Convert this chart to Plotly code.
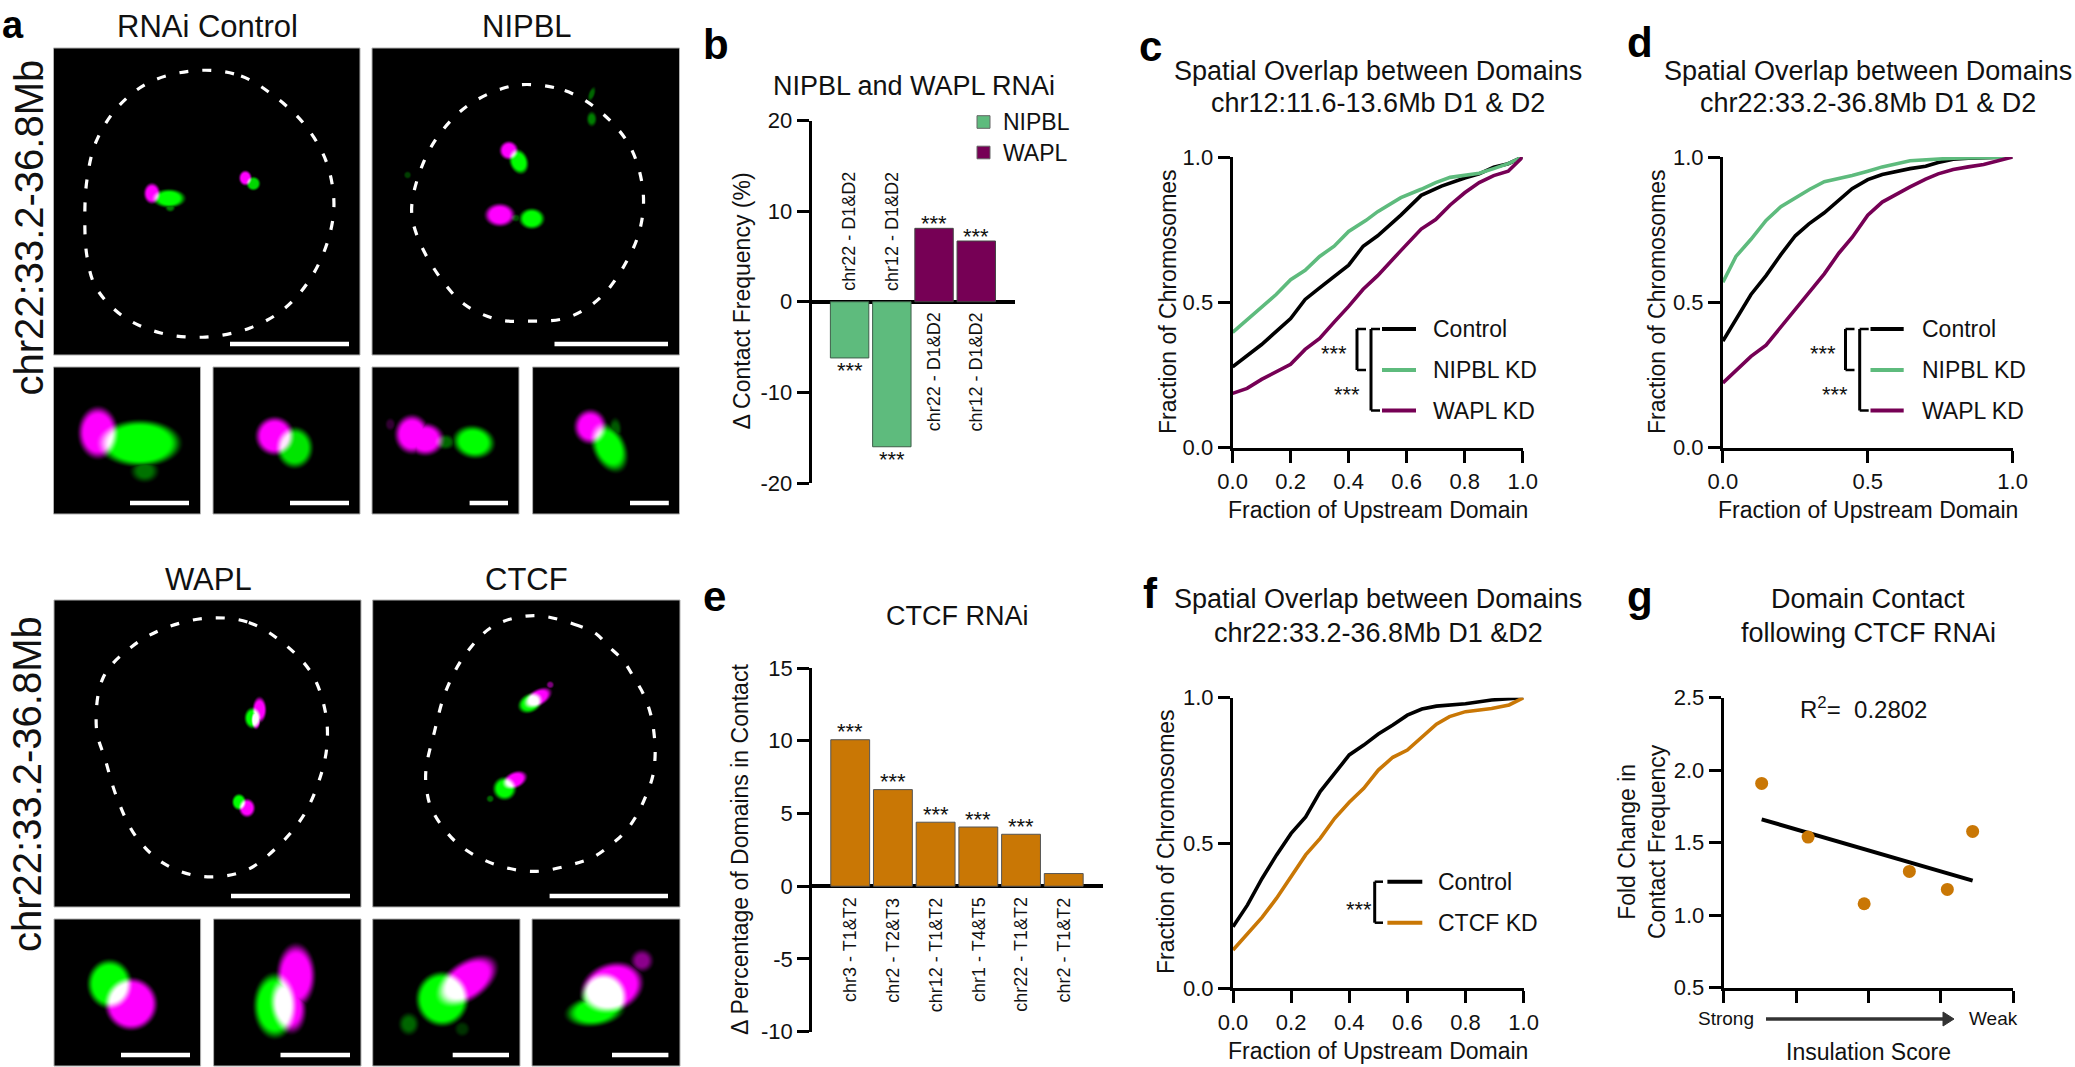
import base64, struct, zlib
import numpy as np
import plotly.graph_objects as go

W, H = 2075, 1067
FONT = "Liberation Sans"
INK = "#111111"
GREEN = "#5EBB7D"
PURPLE = "#760055"
ORANGE = "#C97705"

# ---------- data ----------
b_labels = ["chr22 - D1&D2", "chr12 - D1&D2", "chr22 - D1&D2", "chr12 - D1&D2"]
b_nipbl = [-6.2, -16.0]
b_wapl = [8.1, 6.7]

e_labels = ["chr3 - T1&T2", "chr2 - T2&T3", "chr12 - T1&T2", "chr1 - T4&T5", "chr22 - T1&T2", "chr2 - T1&T2"]
e_values = [10.07, 6.64, 4.4, 4.07, 3.57, 0.87]
e_stars = [True, True, True, True, True, False]

c_ctrl_x = [0, .1, .2, .25, .3, .4, .45, .5, .58, .65, .72, .8, .85, .9, .95, 1]
c_ctrl_y = [.278, .355, .444, .51, .55, .628, .693, .729, .80, .868, .90, .928, .942, .965, .977, 1]
c_nipbl_x = [0, .1, .15, .2, .25, .3, .35, .4, .46, .5, .58, .65, .7, .75, .85, .9, .95, 1]
c_nipbl_y = [.397, .486, .527, .578, .61, .658, .693, .744, .782, .812, .86, .889, .912, .93, .944, .96, .977, 1]
c_wapl_x = [0, .05, .1, .2, .25, .3, .35, .4, .45, .5, .58, .65, .7, .75, .8, .85, .9, .95, 1]
c_wapl_y = [.187, .204, .235, .287, .338, .376, .432, .486, .545, .592, .678, .752, .785, .835, .877, .912, .936, .951, 1]

d_ctrl_x = [0, .045, .097, .149, .2, .25, .297, .35, .4, .446, .5, .55, .646, .7, .743, .795, .847, 1]
d_ctrl_y = [.367, .444, .527, .592, .664, .729, .77, .808, .853, .891, .922, .94, .96, .968, .981, .992, .996, 1]
d_nipbl_x = [0, .045, .097, .149, .2, .25, .3, .35, .446, .5, .55, .646, .743, .795, 1]
d_nipbl_y = [.569, .658, .717, .782, .829, .859, .889, .915, .936, .951, .966, .987, .993, .996, 1]
d_wapl_x = [0, .045, .097, .149, .2, .25, .297, .35, .4, .446, .5, .55, .646, .7, .743, .795, .847, .9, 1]
d_wapl_y = [.223, .267, .314, .353, .415, .48, .533, .598, .669, .723, .80, .845, .897, .924, .942, .957, .966, .974, 1]

f_ctrl_x = [0, .05, .1, .15, .2, .25, .3, .35, .4, .45, .5, .55, .6, .65, .7, .8, .89, 1]
f_ctrl_y = [.212, .287, .378, .459, .533, .59, .677, .74, .803, .837, .875, .906, .94, .961, .971, .979, .992, 1]
f_ctcf_x = [0, .05, .1, .15, .2, .25, .3, .35, .4, .45, .5, .55, .6, .65, .7, .745, .8, .89, .95, 1]
f_ctcf_y = [.132, .189, .244, .31, .384, .459, .516, .585, .64, .688, .751, .795, .82, .864, .909, .935, .952, .963, .975, 1]

g_x = [.525, 1.167, 1.942, 2.567, 3.092, 3.442]
g_y = [1.909, 1.539, 1.079, 1.302, 1.178, 1.578]
g_fit_x = [.525, 3.442]
g_fit_y = [1.661, 1.238]

# ---------- micrograph panels: (x0, y0, x1, y1) and blobs (channel, cx, cy, rx, ry, rotation, amplitude) ----------
MICROGRAPHS = [
    ((53.5, 48, 360, 355), [("m", 151.8, 193.4, 7, 9, 0, 1), ("g", 168.8, 198.4, 14, 8, 0, 1), ("g", 170, 207, 4, 4, 0, .5),
                            ("m", 245, 178, 5.5, 6.5, 0, 1), ("g", 253, 183.6, 6, 6, 0, .85)]),
    ((372, 48, 679.5, 355), [("m", 509, 150.4, 8, 8, 0, 1), ("g", 519, 161.6, 8, 11, -20, 1), ("m", 500, 215, 13, 10, 0, 1),
                             ("g", 532, 218.7, 11, 9, 0, 1), ("g", 516, 218, 4, 3, 0, .3), ("g", 592, 94, 2.5, 6, 20, .4),
                             ("g", 592, 119, 4, 6, 0, .5), ("g", 407.6, 175, 3, 3, 0, .25)]),
    ((53.5, 367, 200.5, 514), [("m", 98, 432.7, 17.5, 23, 0, 1), ("g", 139.7, 443.3, 37, 21, 0, 1), ("g", 144.7, 471, 11, 9, 0, .45)]),
    ((213, 367, 360, 514), [("m", 274.7, 436, 17, 17, 0, 1), ("g", 294.7, 447.7, 16, 18, 0, .9)]),
    ((372, 367, 519, 514), [("m", 412, 434.3, 15, 17, 0, 1), ("m", 425.3, 439.3, 16, 14, 0, 1), ("m", 390.3, 424.3, 4, 5, 0, .2),
                            ("g", 473.7, 442, 18, 14, 10, 1), ("g", 445.3, 442, 8, 6, 0, .4)]),
    ((532.6, 367, 679.5, 514), [("m", 590.3, 426.7, 14, 15, 0, 1), ("g", 609.3, 447.7, 14, 22, -25, 1), ("g", 615.3, 429, 5, 9, 0, .35)]),
    ((54, 600, 361, 907), [("m", 259.5, 709.8, 6, 11, 0, 1), ("g", 252.6, 718, 7, 9, 0, 1), ("m", 256, 720, 4, 8, 0, 1),
                           ("g", 239, 802, 6, 7, 0, 1), ("m", 247, 808, 7, 8, 0, 1)]),
    ((372.7, 600, 680, 907), [("m", 537.7, 697.8, 13, 7, -30, 1), ("g", 530, 703, 11, 8, -30, 1), ("m", 550, 684.8, 3, 3, 0, .5),
                              ("g", 504.4, 788.6, 10, 10, 0, 1), ("m", 514.7, 780, 11, 7, -25, 1), ("g", 490, 798.8, 3, 3, 0, .4)]),
    ((54, 919, 200.6, 1066), [("g", 109.7, 984, 20, 22, 0, 1), ("m", 131.3, 1004, 24, 24, 0, 1)]),
    ((213.6, 919, 361, 1066), [("m", 295.7, 975.7, 17, 28, 0, 1), ("m", 288, 1005.7, 15, 24, -10, 1), ("g", 274.7, 1005.7, 19, 29, 0, 1)]),
    ((372.7, 919, 520, 1066), [("g", 442, 999, 24, 25, 0, 1), ("m", 467, 980.7, 30, 17, -35, 1), ("g", 408.7, 1024, 8, 9, 0, .4),
                               ("g", 462, 1029, 6, 6, 0, .2)]),
    ((532, 919, 680, 1066), [("m", 612, 987.3, 29, 22, -20, 1), ("m", 642, 960.7, 9, 9, 0, .55), ("g", 603.7, 997.3, 21, 22, 0, 1),
                             ("g", 595, 1011, 25, 13, -8, 1)]),
]

# scale bars: (x0, x1, y)
SCALE_BARS = [(230, 349, 344), (554.5, 668, 344), (130, 189, 503), (290, 349, 503), (469.6, 508, 503), (630, 668.8, 503),
              (231, 350, 896), (549.6, 668, 896), (121, 190, 1055), (280.5, 350, 1055), (452.7, 509, 1055), (612, 668.4, 1055)]

# nucleus outlines, in pixels of the page
a1_zoom = [(450, 208), (540, 225), (610, 280), (680, 365), (730, 475), (748, 600), (735, 710), (695, 825), (635, 915), (560, 970),
           (460, 997), (360, 985), (275, 935), (215, 850), (195, 760), (190, 640), (195, 530), (215, 420), (265, 315), (340, 240), (450, 208)]
a2_zoom = [(1180, 250), (1265, 268), (1340, 325), (1410, 430), (1440, 560), (1435, 670), (1405, 770), (1345, 880), (1270, 940), (1180, 950),
           (1115, 945), (1040, 900), (980, 810), (935, 700), (922, 620), (940, 510), (980, 405), (1045, 315), (1125, 262), (1180, 250)]
wapl_zoom = [(545, 257), (650, 270), (740, 330), (815, 420), (850, 530), (855, 620), (840, 710), (795, 830), (725, 925), (640, 995),
             (530, 1012), (430, 975), (355, 895), (305, 780), (275, 670), (252, 580), (270, 430), (345, 340), (435, 285), (545, 257)]
ctcf_a = [(1395, 250), (1500, 275), (1560, 305)]
ctcf_b = [(20, 255), (65, 300), (95, 350), (125, 405), (145, 465), (155, 530), (157, 590), (150, 650), (130, 710), (105, 765), (72, 815), (30, 855)]
ctcf_c = [(1550, 955), (1500, 975), (1395, 997), (1290, 975), (1195, 915), (1130, 820), (1115, 760), (1113, 700), (1135, 590), (1165, 470),
          (1215, 365), (1290, 280), (1395, 250)]


def top_px(p):
    return [(x / 2.24, y / 2.958) for x, y in p]


def bot_px(p):
    return [(x / 2.613, 530 + y / 2.92) for x, y in p]


NUCLEI = [top_px(a1_zoom), top_px(a2_zoom), bot_px(wapl_zoom),
          bot_px(ctcf_a) + [(x / 2.851 + 600, y / 3 + 560) for x, y in ctcf_b] + bot_px(ctcf_c)]


# ---------- helpers ----------
def px(x):
    return x / W


def py(y):
    return 1 - y / H


def png_uri(rgb):
    h, w, _ = rgb.shape
    raw = b"".join(b"\x00" + rgb[i].tobytes() for i in range(h))

    def chunk(t, d):
        return struct.pack(">I", len(d)) + t + d + struct.pack(">I", zlib.crc32(t + d) & 0xffffffff)
    data = b"\x89PNG\r\n\x1a\n" + chunk(b"IHDR", struct.pack(">IIBBBBB", w, h, 8, 2, 0, 0, 0)) + chunk(b"IDAT", zlib.compress(raw, 9)) + chunk(b"IEND", b"")
    return "data:image/png;base64," + base64.b64encode(data).decode()


def render(box, blobs):
    x0, y0, x1, y1 = box
    w, h = int(round(x1 - x0)), int(round(y1 - y0))
    yy, xx = np.mgrid[0:h, 0:w]
    xx = xx + x0 + .5
    yy = yy + y0 + .5
    chan = {"m": np.zeros((h, w)), "g": np.zeros((h, w))}
    for c, cx, cy, rx, ry, rot, amp in blobs:
        t = np.deg2rad(rot)
        u = (xx - cx) * np.cos(t) + (yy - cy) * np.sin(t)
        v = -(xx - cx) * np.sin(t) + (yy - cy) * np.cos(t)
        r = np.sqrt((u / rx) ** 2 + (v / ry) ** 2)
        small = min(rx, ry)
        soft = min(9.0, 0.65 * small) if amp >= .8 else 1.0 * small
        s = np.clip((1 - r) * small / soft + .5, 0, 1)
        s = s * s * (3 - 2 * s)
        chan[c] = np.maximum(chan[c], amp * s)
    m = np.clip(chan["m"], 0, 1)
    g = np.clip(chan["g"], 0, 1)
    rgb = np.stack([m, g, m], axis=2)
    return (rgb * 255).astype(np.uint8)


fig = go.Figure()
annotations, shapes, images = [], [], []
layout = dict(width=W, height=H, margin=dict(l=0, r=0, t=0, b=0, autoexpand=False), paper_bgcolor="white", plot_bgcolor="rgba(0,0,0,0)",
              showlegend=False, font=dict(family=FONT, color=INK))


def text(x, y, s, size, anchor="center", bold=False, angle=0, color=INK):
    annotations.append(dict(x=px(x), y=py(y), xref="paper", yref="paper", text=s, showarrow=False, xanchor=anchor, yanchor="middle",
                            textangle=angle, font=dict(family=FONT, size=size, color=color, weight="bold" if bold else "normal"),
                            borderpad=0, align="center"))


def seg(x0, y0, x1, y1, color="black", width=3):
    shapes.append(dict(type="line", xref="paper", yref="paper", x0=px(x0), x1=px(x1), y0=py(y0), y1=py(y1),
                       line=dict(color=color, width=width)))


def make_axes(n, box, xr, yr, xticks=None, yticks=None, xfmt=None, show_x=True, yzero=False, xlabels=True):
    x0, y0, x1, y1 = box
    xk = {
        "domain": [px(x0), px(x1)], "range": xr, "anchor": f"y{n}", "showgrid": False, "zeroline": False, "fixedrange": True,
        "visible": show_x,
    }
    if show_x:
        xk.update(showline=True, linecolor="black", linewidth=3, ticks="outside", ticklen=12, tickwidth=3, tickcolor="black",
                  tickvals=xticks, showticklabels=xlabels, tickfont=dict(family=FONT, size=22, color=INK))
        if xlabels:
            xk["ticktext"] = [f"{v:.1f}" for v in xticks]
    yk = dict(domain=[py(y1), py(y0)], range=yr, anchor=f"x{n}", showgrid=False, fixedrange=True, showline=True, linecolor="black", linewidth=3,
              ticks="outside", ticklen=12, tickwidth=3, tickcolor="black", tickvals=yticks[0], ticktext=yticks[1],
              tickfont=dict(family=FONT, size=22, color=INK), zeroline=yzero, zerolinecolor="black", zerolinewidth=4)
    layout[f"xaxis{n}"] = xk
    layout[f"yaxis{n}"] = yk


def curve(n, x, y, color):
    fig.add_trace(go.Scatter(x=x, y=y, mode="lines", xaxis=f"x{n}", yaxis=f"y{n}", cliponaxis=False,
                             line=dict(color=color, width=3.6), hoverinfo="skip"))


# ---------- micrographs ----------
for box, blobs in MICROGRAPHS:
    x0, y0, x1, y1 = box
    images.append(dict(source=png_uri(render(box, blobs)), xref="paper", yref="paper", x=px(x0), y=py(y0),
                       sizex=(x1 - x0) / W, sizey=(y1 - y0) / H, xanchor="left", yanchor="top", sizing="stretch", layer="below"))
    shapes.append(dict(type="rect", xref="paper", yref="paper", x0=px(x0), x1=px(x1), y0=py(y0), y1=py(y1),
                       line=dict(color="#B0B0B0", width=1), fillcolor="rgba(0,0,0,0)"))
for x0, x1, y in SCALE_BARS:
    seg(x0, y, x1, y, "white", 4.5)

# overlay axes in page pixels, for the nucleus outlines
layout["xaxis9"] = dict(domain=[0, 1], range=[0, W], visible=False, fixedrange=True, anchor="y9")
layout["yaxis9"] = dict(domain=[0, 1], range=[H, 0], visible=False, fixedrange=True, anchor="x9")
for pts in NUCLEI:
    fig.add_trace(go.Scatter(x=[p[0] for p in pts], y=[p[1] for p in pts], mode="lines", xaxis="x9", yaxis="y9",
                             line=dict(color="white", width=3.2, dash="9px,14px", shape="spline", smoothing=1), hoverinfo="skip"))

for x, y, s in [(207, 27, "RNAi Control"), (527, 27, "NIPBL"), (208, 579, "WAPL"), (526, 579, "CTCF")]:
    text(x, y, s, 31)
text(28, 227.5, "chr22:33.2-36.8Mb", 40, angle=-90)
text(27, 784, "chr22:33.2-36.8Mb", 40, angle=-90)

# panel letters
text(1, 25, "a", 38, anchor="left", bold=True, color="black")
for x, y, s in [(702, 45, "b"), (1137.5, 46, "c"), (1626, 43, "d"), (701.7, 596, "e"), (1142, 593, "f"), (1625.5, 596, "g")]:
    text(x, y, s, 42, anchor="left", bold=True, color="black")

# ---------- panel b ----------
make_axes(1, (811.6, 120.5, 1014.7, 483), [-0.9, 3.91], [-20, 20], show_x=False, yzero=True,
          yticks=([-20, -10, 0, 10, 20], ["-20", "-10", "0", "10", "20"]))
fig.add_trace(go.Bar(x=[0, 1], y=b_nipbl, width=.91, xaxis="x1", yaxis="y1", marker=dict(color=GREEN, line=dict(color="#3E5E49", width=1)), hoverinfo="skip"))
fig.add_trace(go.Bar(x=[2, 3], y=b_wapl, width=.91, xaxis="x1", yaxis="y1", marker=dict(color=PURPLE, line=dict(color="#444444", width=1)), hoverinfo="skip"))
for i, lab in enumerate(b_labels):
    neg = i < 2
    annotations.append(dict(x=i, y=0, xref="x1", yref="y1", text=lab, showarrow=False, textangle=-90, xanchor="center",
                            yanchor="bottom" if neg else "top", yshift=9 if neg else -9, font=dict(family=FONT, size=18, color=INK)))
for i, v in enumerate(b_nipbl + b_wapl):
    annotations.append(dict(x=i, y=v, xref="x1", yref="y1", text="***", showarrow=False, xanchor="center", yanchor="middle",
                            yshift=-13 if v < 0 else 5, font=dict(family=FONT, size=22, color=INK)))
text(914, 86, "NIPBL and WAPL RNAi", 27)
text(742.4, 301, "Δ Contact Frequency (%)", 23, angle=-90)
for y, color, name in [(122, GREEN, "NIPBL"), (152.5, PURPLE, "WAPL")]:
    shapes.append(dict(type="rect", xref="paper", yref="paper", x0=px(977), x1=px(990), y0=py(y - 6.3), y1=py(y + 6.3), fillcolor=color,
                       line=dict(color="#666666", width=1)))
    text(1001.5, y, name, 23, anchor="left")

# ---------- panels c, d ----------
FR_TICKS = ([0, .5, 1], ["0.0", "0.5", "1.0"])
make_axes(2, (1232.6, 157, 1522.7, 447.7), [0, 1], [0, 1], xticks=[0, .2, .4, .6, .8, 1], yticks=FR_TICKS)
curve(2, c_ctrl_x, c_ctrl_y, "black")
curve(2, c_nipbl_x, c_nipbl_y, GREEN)
curve(2, c_wapl_x, c_wapl_y, PURPLE)
make_axes(3, (1722.9, 157, 2012.6, 447.7), [0, 1], [0, 1], xticks=[0, .5, 1], yticks=FR_TICKS)
curve(3, d_ctrl_x, d_ctrl_y, "black")
curve(3, d_nipbl_x, d_nipbl_y, GREEN)
curve(3, d_wapl_x, d_wapl_y, PURPLE)

for cx, ycap, tx, l0, l1, in_x, out_x, s1, s2 in [
    (1378, 0, 1432, 1382, 1416, 1357, 1371, 1334, 1347),
    (1867.5, 0, 1921, 1870.5, 1903.7, 1845.5, 1859.7, 1822.7, 1834.8),
]:
    text(cx, 70.6, "Spatial Overlap between Domains", 27)
    text(cx, 103, "chr12:11.6-13.6Mb D1 & D2" if cx < 1500 else "chr22:33.2-36.8Mb D1 & D2", 27)
    text(cx, 509.6, "Fraction of Upstream Domain", 23)
    text(1168 if cx < 1500 else 1657, 302, "Fraction of Chromosomes", 23, angle=-90)
    for y, color, name in [(329, "black", "Control"), (370, GREEN, "NIPBL KD"), (410.5, PURPLE, "WAPL KD")]:
        seg(l0, y, l1, y, color, 4)
        text(tx, y, name, 23, anchor="left")
    seg(in_x, 329, in_x, 370, "black", 3)
    seg(in_x, 329, in_x + 9, 329, "black", 2.5)
    seg(in_x, 370, in_x + 9, 370, "black", 2.5)
    seg(out_x, 329, out_x, 410.5, "black", 3)
    seg(out_x, 329, out_x + 9, 329, "black", 2.5)
    seg(out_x, 410.5, out_x + 9, 410.5, "black", 2.5)
    text(s1, 353, "***", 22)
    text(s2, 394, "***", 22)

# ---------- panel e ----------
make_axes(4, (812.2, 668, 1102.6, 1031.7), [-0.89, 5.91], [-10, 15], show_x=False, yzero=True,
          yticks=([-10, -5, 0, 5, 10, 15], ["-10", "-5", "0", "5", "10", "15"]))
fig.add_trace(go.Bar(x=list(range(6)), y=e_values, width=.91, xaxis="x4", yaxis="y4", marker=dict(color=ORANGE, line=dict(color="#555555", width=1)), hoverinfo="skip"))
for i, (lab, v, st) in enumerate(zip(e_labels, e_values, e_stars)):
    annotations.append(dict(x=i, y=0, xref="x4", yref="y4", text=lab, showarrow=False, textangle=-90, xanchor="center", yanchor="top",
                            yshift=-9, font=dict(family=FONT, size=18, color=INK)))
    if st:
        annotations.append(dict(x=i, y=v, xref="x4", yref="y4", text="***", showarrow=False, xanchor="center", yanchor="middle",
                                yshift=8, font=dict(family=FONT, size=22, color=INK)))
text(957, 616, "CTCF RNAi", 27)
text(740, 850, "Δ Percentage of Domains in Contact", 23, angle=-90)

# ---------- panel f ----------
make_axes(5, (1233, 697.7, 1523.6, 988.3), [0, 1], [0, 1], xticks=[0, .2, .4, .6, .8, 1], yticks=FR_TICKS)
curve(5, f_ctrl_x, f_ctrl_y, "black")
curve(5, f_ctcf_x, f_ctcf_y, ORANGE)
text(1378, 599.3, "Spatial Overlap between Domains", 27)
text(1378, 632.7, "chr22:33.2-36.8Mb D1 &D2", 27)
text(1378, 1051, "Fraction of Upstream Domain", 23)
text(1166, 842, "Fraction of Chromosomes", 23, angle=-90)
for y, color, name in [(881.7, "black", "Control"), (922.7, ORANGE, "CTCF KD")]:
    seg(1387.4, y, 1422.3, y, color, 4)
    text(1437.4, y, name, 23, anchor="left")
seg(1374.7, 881.7, 1374.7, 922.7, "black", 3)
seg(1374.7, 881.7, 1383, 881.7, "black", 2.5)
seg(1374.7, 922.7, 1383, 922.7, "black", 2.5)
text(1359, 909, "***", 22)

# ---------- panel g ----------
make_axes(6, (1723.7, 697.7, 2013, 987.7), [0, 4], [.5, 2.5], xticks=[0, 1, 2, 3, 4], xlabels=False,
          yticks=([.5, 1, 1.5, 2, 2.5], ["0.5", "1.0", "1.5", "2.0", "2.5"]))
fig.add_trace(go.Scatter(x=g_fit_x, y=g_fit_y, mode="lines", xaxis="x6", yaxis="y6", line=dict(color="black", width=4), hoverinfo="skip"))
fig.add_trace(go.Scatter(x=g_x, y=g_y, mode="markers", xaxis="x6", yaxis="y6", marker=dict(color=ORANGE, size=13), hoverinfo="skip"))
text(1868, 599.3, "Domain Contact", 27)
text(1868, 632.7, "following CTCF RNAi", 27)
text(1863, 707.7, "R<sup>2</sup>=&nbsp;&nbsp;0.2802", 24)
text(1642, 842, "Fold Change in<br>Contact Frequency", 23, angle=-90)
text(1726, 1018, "Strong", 19, color=INK)
text(1993.5, 1018, "Weak", 19, color=INK)
text(1868, 1051.7, "Insulation Score", 23)
seg(1766, 1019, 1945, 1019, "#333333", 3.5)
shapes.append(dict(type="path", xref="paper", yref="paper", fillcolor="#333333", line=dict(color="#333333", width=1),
                   path=f"M {px(1943)} {py(1012)} L {px(1954)} {py(1019)} L {px(1943)} {py(1026)} Z"))

layout["annotations"] = annotations
layout["shapes"] = shapes
layout["images"] = images
layout["barmode"] = "overlay"
fig.update_layout(**layout)
fig.write_html("out.html", config=dict(displayModeBar=False),
               post_script="document.body.style.margin='0';document.documentElement.style.overflow='hidden';")
